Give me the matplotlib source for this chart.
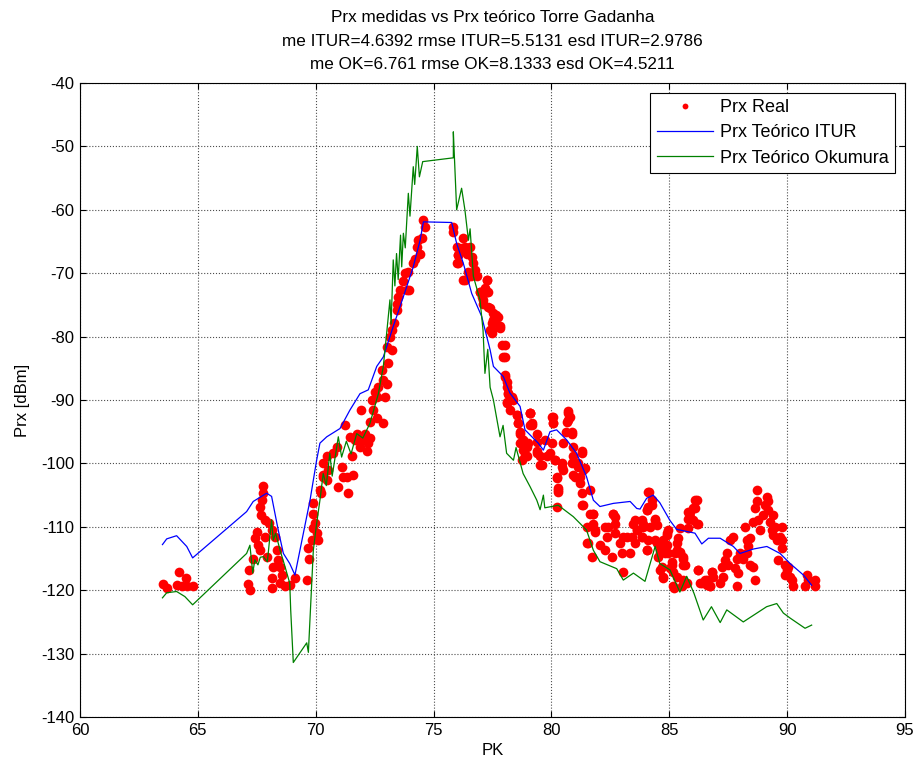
import numpy as np
import matplotlib
matplotlib.use("Agg")
import matplotlib.pyplot as plt

plt.rcParams['font.family'] = ['Liberation Sans', 'DejaVu Sans']
plt.rcParams['axes.unicode_minus'] = False

# Prx Teórico ITUR
itur_pk = [63.50, 63.68, 64.10, 64.53, 64.78, 67.07, 67.35, 67.92, 68.13, 68.41,
           68.63, 68.90, 69.12, 69.76, 70.04, 70.18, 70.47, 71.03, 71.45, 71.88,
           72.23, 72.59, 72.87, 73.29, 73.72, 74.14, 74.43, 74.57, 75.77, 75.98,
           76.26, 76.62, 77.04, 77.40, 77.54, 77.96, 78.24, 78.67, 78.88, 79.44,
           79.66, 79.94, 80.22, 80.65, 81.07, 81.49, 81.78, 82.06, 82.63, 83.34,
           83.62, 83.76, 84.04, 84.32, 84.60, 85.03, 85.31, 86.09, 86.38, 86.66,
           87.16, 87.72, 88.00, 88.57, 89.14, 89.70, 90.13, 90.69, 91.04]
itur_prx = [-112.8, -111.9, -111.4, -113.1, -114.9, -107.6, -106.0, -104.7, -105.2, -110.5,
            -114.2, -115.8, -117.6, -105.8, -99.5, -96.8, -95.8, -94.5, -91.6, -89.0,
            -88.4, -84.7, -83.2, -78.4, -73.7, -69.0, -64.8, -61.9, -62.0, -65.3,
            -68.4, -73.2, -76.8, -82.1, -84.7, -86.3, -88.9, -91.0, -94.7, -96.8,
            -97.9, -95.0, -94.7, -96.3, -98.4, -102.1, -105.8, -106.8, -106.3, -106.0,
            -107.1, -107.2, -105.5, -105.0, -106.2, -109.0, -110.4, -111.0, -112.7, -111.8,
            -111.8, -113.1, -114.2, -113.5, -113.1, -114.2, -115.8, -117.6, -119.2]

# Prx Teórico Okumura
ok_pk = [63.50, 63.68, 64.10, 64.45, 64.78, 67.07, 67.21, 67.33, 67.42, 67.55,
         67.65, 67.78, 67.95, 68.13, 68.20, 68.30, 68.49, 68.70, 68.90, 68.94,
         69.05, 69.62, 69.69, 69.90, 70.04, 70.18, 70.32, 70.45, 70.60, 70.70,
         70.96, 71.10, 71.30, 71.50, 71.74, 72.00, 72.30, 72.66, 72.87, 73.01,
         73.15, 73.20, 73.29, 73.36, 73.43, 73.50, 73.60, 73.65, 73.72, 73.80,
         73.93, 74.00, 74.14, 74.20, 74.31, 74.40, 74.54, 75.84, 75.84, 75.98,
         76.19, 76.33, 76.48, 76.55, 76.69, 76.97, 77.10, 77.18, 77.30, 77.40,
         77.54, 77.82, 77.95, 78.10, 78.39, 78.50, 78.80, 79.10, 79.38, 79.52,
         79.66, 79.72, 80.29, 80.93, 81.49, 81.78, 82.06, 82.77, 83.05, 83.48,
         83.97, 84.40, 84.60, 85.03, 85.45, 85.74, 86.05, 86.44, 86.79, 87.16,
         87.44, 88.14, 89.13, 89.56, 89.84, 90.13, 90.76, 91.04]
ok_prx = [-121.2, -120.4, -120.2, -121.0, -122.3, -114.2, -112.9, -117.3, -115.2, -116.0,
          -114.8, -114.7, -115.5, -108.9, -112.1, -111.0, -113.7, -116.3, -118.9, -123.1,
          -131.4, -128.3, -129.8, -113.7, -109.5, -105.8, -101.6, -103.5, -98.4, -102.0,
          -95.8, -99.0, -96.5, -98.5, -95.3, -96.0, -93.7, -89.0, -84.7, -79.5,
          -74.2, -78.0, -67.9, -72.0, -66.9, -71.0, -64.0, -69.0, -63.7, -66.0,
          -57.4, -61.0, -53.2, -56.0, -50.0, -54.8, -52.4, -51.8, -47.7, -60.0,
          -56.6, -60.0, -64.8, -63.0, -70.5, -74.2, -79.0, -85.8, -82.0, -88.0,
          -90.0, -95.8, -94.0, -98.4, -99.5, -97.5, -101.6, -103.7, -105.8, -107.3,
          -105.0, -107.0, -106.6, -108.4, -110.5, -113.7, -115.5, -116.6, -118.4, -117.3,
          -118.6, -113.1, -115.8, -116.8, -120.3, -117.8, -120.5, -124.7, -122.6, -125.1,
          -123.1, -125.0, -122.6, -122.1, -123.6, -124.4, -126.0, -125.5]

# Prx Real (medidas)
real_pk = [
    63.54, 63.71, 64.21, 64.50, 64.10, 64.31, 64.53, 64.81, 67.14, 67.21,
    67.75, 67.78, 67.71, 67.64, 67.67, 67.85, 68.00, 67.50, 67.42, 67.57,
    67.64, 67.35, 67.18, 67.85, 67.92, 68.13, 68.27, 68.34, 68.20, 68.41,
    68.49, 68.56, 68.13, 68.13, 68.49, 68.70, 68.91, 69.12, 69.65, 69.69,
    69.73, 69.83, 69.90, 69.90, 69.87, 69.97, 70.07, 70.11, 70.21, 70.32,
    70.47,
    70.18, 70.32, 70.32, 70.47, 70.54, 70.75, 70.89, 71.10, 71.17, 70.96,
    71.38, 71.31, 71.24, 71.46, 71.53, 71.60, 71.67, 71.74, 71.88, 71.95,
    72.09, 72.16, 72.23, 72.30, 71.91, 72.30, 72.38, 72.52, 72.59, 72.66,
    72.45, 72.59, 72.87, 72.94, 73.01, 72.80, 72.84, 73.08, 73.22, 73.01,
    73.15, 73.22, 73.32, 73.44, 73.44, 73.50, 73.58, 73.72, 73.79, 73.93,
    73.86, 73.97, 74.14, 74.21, 74.28, 74.35, 74.43, 74.50, 74.57, 74.64,
    75.84, 75.84, 75.98, 76.05, 75.98, 76.26, 76.19, 76.33, 76.41, 76.55,
    76.62, 76.69, 76.48, 76.33, 76.76, 76.83, 76.97, 77.04, 77.18, 77.25,
    77.25, 77.11, 77.32, 77.54, 77.60, 77.75, 77.82, 77.47, 77.39, 77.47,
    78.03, 78.02, 78.03, 78.10, 78.17, 78.10, 78.24, 78.39, 78.53, 79.09,
    79.16, 78.60, 78.67, 78.81, 78.88, 78.74, 79.02, 79.38,
    76.05, 76.05, 76.26, 76.61, 77.25, 76.97, 77.32, 77.11, 77.39, 77.67,
    77.53, 77.82, 77.46, 77.89, 77.96, 78.03, 78.10, 78.17, 78.31, 78.10,
    78.52, 78.60, 78.66, 79.09, 79.09, 78.81, 78.95, 78.88, 79.37, 79.37,
    79.51, 79.58, 79.80, 80.08, 80.08, 80.01, 80.15, 80.22, 80.29, 80.22,
    80.72, 80.72, 80.64, 80.86, 80.43, 80.50, 80.93, 80.86, 81.00, 81.14,
    81.28, 81.35, 81.21, 81.63, 81.28, 81.78, 81.78, 81.85, 81.56, 82.27,
    82.62, 82.69, 83.05, 83.40, 83.54, 83.61,
    78.67, 79.09, 79.16, 78.81, 78.95, 79.38, 79.52, 79.73, 79.94, 80.01,
    80.08, 80.72, 80.79, 80.65, 80.86, 80.51, 80.15, 80.44, 80.23, 80.30,
    80.30, 80.93, 81.14, 80.93, 81.29, 81.43, 81.22, 81.29, 81.36, 81.64,
    81.78, 82.70, 82.63, 81.50, 81.85, 82.42, 81.50, 81.71, 82.06, 82.28,
    82.35, 82.56, 82.70, 82.91, 82.98, 83.20, 83.05, 83.34, 83.48, 83.62,
    83.55, 83.83, 83.90, 83.83, 84.04, 84.18, 84.40, 84.47, 84.11, 84.26,
    84.04, 84.47, 84.61, 84.75, 84.61, 84.75, 84.89, 84.96, 85.10, 85.32,
    85.25, 85.46, 85.32, 85.18, 85.60, 85.60, 85.74, 85.67, 85.81, 85.88,
    86.02, 86.10, 86.24, 86.24, 86.38, 86.59, 86.80, 86.73,
    84.16, 84.26, 84.11, 84.04, 84.40, 83.90, 83.83, 84.11, 84.40, 84.04,
    84.61, 84.75, 84.89, 84.54, 84.89, 84.82, 84.68, 84.75, 85.10, 85.03,
    85.17, 85.17, 84.96, 85.39, 85.32, 85.46, 85.60, 85.60, 85.53, 85.46,
    85.81, 85.88, 86.09, 85.81, 86.02, 86.16, 86.16, 86.24, 86.31, 86.52,
    86.59, 86.73, 86.80, 86.87, 87.15, 87.29, 87.22, 87.36, 87.44, 87.58,
    87.72, 87.51, 87.86, 87.79, 87.93, 87.86, 88.00, 88.14, 88.21, 88.28,
    88.36, 88.43, 88.28, 88.43, 88.57, 88.64, 88.57, 88.64, 88.71, 88.71,
    88.78, 88.85, 88.99, 89.06, 89.13, 89.20, 89.20, 89.28, 89.35, 89.42,
    89.49, 89.42, 89.56, 89.77, 89.77, 89.70, 89.77, 89.63, 89.91, 89.98,
    90.05, 89.91, 90.12, 90.19, 90.27, 90.83, 90.90, 90.76, 91.18, 91.18]
real_prx = [
    -119.0, -119.6, -117.1, -118.1, -119.2, -119.4, -119.3, -119.4, -119.0, -119.9,
    -103.6, -104.7, -105.8, -106.8, -108.1, -108.9, -109.4, -110.8, -111.8, -112.9,
    -113.6, -115.0, -116.8, -111.6, -114.7, -110.5, -111.6, -113.7, -116.3, -115.2,
    -116.3, -117.6, -118.1, -119.6, -118.9, -119.4, -119.2, -118.1, -118.4, -113.4,
    -115.0, -112.1, -106.2, -107.9, -110.2, -109.4, -111.0, -112.1, -104.7, -101.8,
    -102.6,
    -104.2, -100.0, -102.1, -98.9, -101.0, -98.4, -97.4, -100.5, -102.1, -103.7,
    -104.7, -102.1, -93.9, -95.8, -98.9, -101.8, -96.3, -95.3, -97.4, -96.3,
    -95.3, -98.1, -96.8, -96.0, -91.5, -93.4, -90.0, -88.7, -89.5, -87.9,
    -91.6, -92.9, -93.7, -89.5, -87.4, -85.3, -86.8, -84.2, -82.1, -81.6,
    -80.0, -78.96, -77.9, -75.8, -74.8, -73.7, -72.6, -71.3, -70.0, -69.8,
    -72.6, -72.6, -68.4, -67.7, -65.8, -64.8, -66.9, -64.5, -61.6, -62.7,
    -62.7, -63.5, -65.8, -67.1, -68.4, -64.5, -66.1, -65.8, -66.9, -65.8,
    -67.4, -68.4, -69.8, -71.1, -69.5, -70.5, -72.9, -73.7, -72.4, -71.1,
    -72.9, -74.8, -75.3, -76.3, -77.4, -76.9, -78.7, -77.9, -79.0, -79.5,
    -81.3, -83.2, -86.3, -87.9, -89.0, -90.3, -91.6, -90.0, -92.4, -92.1,
    -93.7, -93.7, -95.3, -96.3, -97.4, -99.5, -96.8, -95.3,
    -67.1, -68.4, -71.1, -70.5, -71.1, -72.9, -72.9, -74.2, -75.5, -76.6,
    -77.4, -78.4, -79.0, -81.3, -83.2, -86.1, -87.1, -88.9, -89.5, -90.5,
    -92.4, -93.7, -95.0, -92.1, -94.0, -96.3, -97.4, -98.7, -96.6, -98.1,
    -98.9, -100.2, -98.9, -92.6, -93.7, -96.8, -99.5, -102.1, -104.2, -106.8,
    -92.1, -93.1, -95.0, -95.3, -100.0, -101.0, -97.4, -100.0, -102.1, -100.5,
    -98.4, -101.0, -103.1, -104.2, -106.6, -107.9, -109.5, -110.5, -112.6, -110.0,
    -107.9, -109.5, -111.6, -111.6, -108.9, -110.5,
    -96.8, -92.1, -93.9, -97.9, -98.9, -98.4, -100.2, -96.3, -98.4, -92.6,
    -93.7, -91.8, -92.6, -93.4, -95.0, -96.8, -99.5, -100.5, -102.3, -103.9,
    -104.5, -98.9, -100.0, -101.8, -98.1, -100.8, -102.1, -104.7, -106.6, -107.9,
    -107.9, -108.4, -107.9, -110.0, -110.8, -110.0, -112.6, -114.7, -112.9, -113.7,
    -111.6, -114.7, -111.0, -112.6, -114.2, -111.6, -117.1, -114.2, -109.5, -110.5,
    -112.6, -108.9, -110.0, -111.6, -113.7, -110.0, -108.7, -109.7, -104.5, -106.6,
    -107.3, -112.6, -114.2, -113.1, -116.8, -118.1, -111.3, -114.2, -115.5, -112.6,
    -114.2, -114.2, -117.9, -119.7, -114.7, -118.4, -118.9, -116.0, -107.6, -108.4,
    -107.1, -105.8, -109.5, -116.8, -118.9, -118.4, -117.1, -119.4,
    -104.5, -105.8, -106.8, -107.4, -108.9, -109.5, -111.6, -112.1, -112.1, -113.7,
    -113.7, -112.1, -112.9, -114.7, -111.0, -114.2, -116.3, -117.9, -116.0, -116.5,
    -117.1, -119.4, -110.5, -111.8, -113.7, -113.9, -115.0, -116.0, -119.4, -110.2,
    -110.2, -107.6, -107.1, -108.7, -108.9, -109.5, -105.7, -116.8, -118.9, -118.4,
    -119.2, -119.4, -117.1, -117.9, -118.9, -117.9, -116.3, -115.2, -114.2, -112.1,
    -111.6, -116.0, -115.0, -116.5, -117.3, -119.4, -114.2, -115.0, -110.0, -112.1,
    -113.1, -111.8, -114.2, -116.0, -116.3, -118.4, -109.2, -107.1, -106.0, -104.2,
    -108.9, -110.5, -108.1, -106.6, -105.3, -106.0, -107.4, -109.2, -110.5, -108.1,
    -110.0, -111.3, -112.1, -110.0, -112.1, -111.6, -113.4, -115.2, -116.0, -116.8,
    -116.3, -117.6, -117.9, -118.4, -119.4, -117.6, -118.4, -119.4, -118.4, -119.4]

title_lines = ["Prx medidas vs Prx teórico Torre Gadanha",
               "me ITUR=4.6392 rmse ITUR=5.5131 esd ITUR=2.9786",
               "me OK=6.761 rmse OK=8.1333 esd OK=4.5211"]

fig = plt.figure(figsize=(9.17, 7.65), dpi=100)
ax = fig.add_axes([0.0872, 0.0627, 0.8997, 0.8288])

ax.plot(real_pk, real_prx, 'o', color='red', markersize=7, markeredgewidth=0,
        label='Prx Real', zorder=2)
ax.plot(itur_pk, itur_prx, '-', color='blue', linewidth=0.9, label='Prx Teórico ITUR', zorder=3)
ax.plot(ok_pk, ok_prx, '-', color='green', linewidth=0.9, label='Prx Teórico Okumura', zorder=3)

ax.set_xlim(60, 95)
ax.set_ylim(-140, -40)
ax.set_xticks(np.arange(60, 96, 5))
ax.set_yticks(np.arange(-140, -39, 10))
ax.grid(True, linestyle=':', color='0.3', linewidth=0.8)
ax.set_axisbelow(True)
ax.tick_params(direction='in', top=True, right=True, labelsize=12, length=4, pad=4)
for s in ax.spines.values():
    s.set_linewidth(0.8)

ax.set_xlabel('PK', fontsize=12, labelpad=4)
ax.set_ylabel('Prx [dBm]', fontsize=12, labelpad=8)
ax.set_title("\n".join(title_lines), fontsize=12.3, linespacing=1.7, pad=10)

leg = ax.legend(loc='upper right', fontsize=13, frameon=True, fancybox=False,
                edgecolor='black', framealpha=1, handlelength=3.1, handletextpad=0.4,
                labelspacing=0.45, markerscale=0.6, borderaxespad=0.55, borderpad=0.35)
leg.get_frame().set_linewidth(0.8)

fig.savefig('out.png', dpi=100)
